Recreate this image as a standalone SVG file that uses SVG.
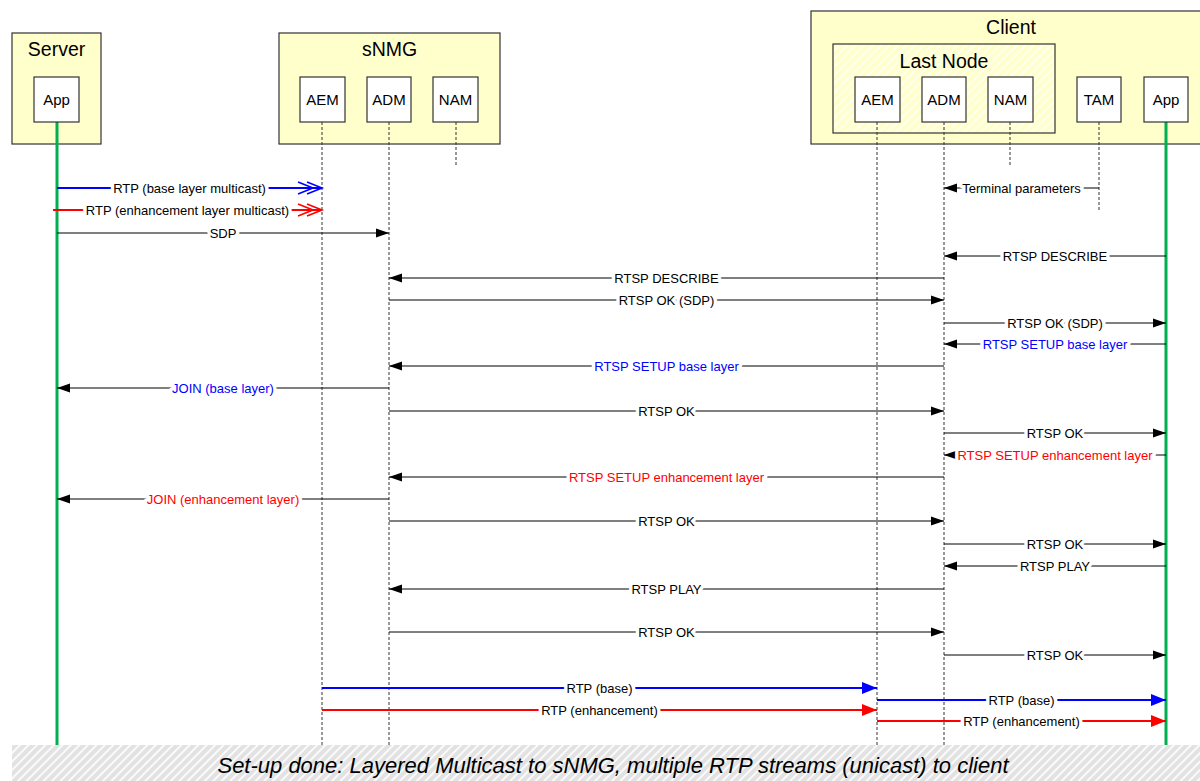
<svg xmlns="http://www.w3.org/2000/svg" width="1200" height="781" viewBox="0 0 1200 781">
<style>
  .grp { fill: #FFFFCC; stroke: #333; stroke-width: 1.2; }
  .node { fill: #FFFFFF; stroke: #333; stroke-width: 1.2; }
  .title { font-family: "Liberation Sans", Arial, sans-serif; font-size: 19.5px; fill: #000; text-anchor: middle; }
  .nlabel { font-family: "Liberation Sans", Arial, sans-serif; font-size: 15px; fill: #000; text-anchor: middle; }
  .life { stroke: #333; stroke-width: 1; stroke-dasharray: 3 2; fill: none; }
  .app { stroke: #00B050; stroke-width: 3; fill: none; }
  .msg { stroke: #000; stroke-width: 1; fill: none; }
  .blue { stroke: #0000FF; stroke-width: 2; fill: none; }
  .red { stroke: #FF0000; stroke-width: 2; fill: none; }
  .lbl { font-family: "Liberation Sans", Arial, sans-serif; font-size: 13px; fill: #000; text-anchor: middle; stroke: #FFFFFF; stroke-width: 7; stroke-linejoin: round; paint-order: stroke; }
  .tb { fill: #0000FF; }
  .tr { fill: #FF0000; }
  .banner { font-family: "Liberation Sans", Arial, sans-serif; font-size: 22px; font-style: italic; fill: #000; text-anchor: middle; }
</style>
<defs>
  <pattern id="hatchY" patternUnits="userSpaceOnUse" width="6" height="6" patternTransform="rotate(45)">
    <rect width="6" height="6" fill="#FFFFCC"/>
    <rect width="2" height="6" fill="#FFFFEE"/>
  </pattern>
  <pattern id="hatchG" patternUnits="userSpaceOnUse" width="6" height="6" patternTransform="rotate(45)">
    <rect width="6" height="6" fill="#E2E2E2"/>
    <rect width="2" height="6" fill="#FAFAFA"/>
  </pattern>
  <marker id="ak" markerUnits="userSpaceOnUse" markerWidth="14" markerHeight="10" refX="13" refY="4.5" orient="auto" overflow="visible">
    <path d="M0,0 L13,4.5 L0,9 z" fill="#000"/>
  </marker>
  <marker id="ab" markerUnits="userSpaceOnUse" markerWidth="16" markerHeight="12" refX="15" refY="6" orient="auto" overflow="visible">
    <path d="M0,0 L15,6 L0,12 z" fill="#0000FF"/>
  </marker>
  <marker id="ar" markerUnits="userSpaceOnUse" markerWidth="16" markerHeight="12" refX="15" refY="6" orient="auto" overflow="visible">
    <path d="M0,0 L15,6 L0,12 z" fill="#FF0000"/>
  </marker>
  <marker id="ob" markerUnits="userSpaceOnUse" markerWidth="20" markerHeight="14" refX="0" refY="0" orient="auto" overflow="visible">
    <path d="M-24,-6 L-9,0 L-24,6 M-15,-6 L0,0 L-15,6" fill="none" stroke="#0000FF" stroke-width="1.6"/>
  </marker>
  <marker id="or" markerUnits="userSpaceOnUse" markerWidth="20" markerHeight="14" refX="0" refY="0" orient="auto" overflow="visible">
    <path d="M-24,-6 L-9,0 L-24,6 M-15,-6 L0,0 L-15,6" fill="none" stroke="#FF0000" stroke-width="1.6"/>
  </marker>
</defs>

<rect width="1200" height="781" fill="#FFFFFF"/>

<!-- Groups -->
<g id="server">
  <rect class="grp" x="12" y="33" width="89" height="111"/>
  <text class="title" x="56.5" y="56">Server</text>
</g>
<g id="snmg">
  <rect class="grp" x="279" y="33" width="221" height="111"/>
  <text class="title" x="389.5" y="56">sNMG</text>
</g>
<g id="client">
  <rect class="grp" x="811" y="11" width="395" height="133"/>
  <text class="title" x="1011" y="34">Client</text>
</g>
<g id="lastnode">
  <rect x="833" y="44" width="222" height="89" fill="url(#hatchY)" stroke="#333" stroke-width="1.2"/>
  <text class="title" x="944" y="68">Last Node</text>
</g>

<!-- Lifelines -->
<g id="lifelines">
  <line class="life" x1="322" y1="122" x2="322" y2="745"/>
  <line class="life" x1="389" y1="122" x2="389" y2="745"/>
  <line class="life" x1="456" y1="122" x2="456" y2="165"/>
  <line class="life" x1="877" y1="122" x2="877" y2="745"/>
  <line class="life" x1="944" y1="122" x2="944" y2="745"/>
  <line class="life" x1="1010" y1="122" x2="1010" y2="165"/>
  <line class="life" x1="1099" y1="122" x2="1099" y2="210"/>
  <line class="app" x1="57" y1="122" x2="57" y2="745"/>
  <line class="app" x1="1166" y1="122" x2="1166" y2="745"/>
</g>

<!-- Nodes -->
<g id="server-app"><rect class="node" x="34" y="77" width="45" height="45"/><text class="nlabel" x="56.5" y="105">App</text></g>
<g id="snmg-aem"><rect class="node" x="300" y="77" width="45" height="45"/><text class="nlabel" x="322.5" y="105">AEM</text></g>
<g id="snmg-adm"><rect class="node" x="367" y="77" width="44" height="45"/><text class="nlabel" x="389" y="105">ADM</text></g>
<g id="snmg-nam"><rect class="node" x="433" y="77" width="45" height="45"/><text class="nlabel" x="455.5" y="105">NAM</text></g>
<g id="client-aem"><rect class="node" x="855" y="77" width="45" height="45"/><text class="nlabel" x="877.5" y="105">AEM</text></g>
<g id="client-adm"><rect class="node" x="922" y="77" width="44" height="45"/><text class="nlabel" x="944" y="105">ADM</text></g>
<g id="client-nam"><rect class="node" x="988" y="77" width="45" height="45"/><text class="nlabel" x="1010.5" y="105">NAM</text></g>
<g id="client-tam"><rect class="node" x="1077" y="77" width="44" height="45"/><text class="nlabel" x="1099" y="105">TAM</text></g>
<g id="client-app"><rect class="node" x="1144" y="77" width="44" height="45"/><text class="nlabel" x="1166" y="105">App</text></g>

<!-- Connectors -->
<g id="connectors">
  <line class="blue" x1="57" y1="188" x2="322" y2="188" marker-end="url(#ob)"/>
  <text class="lbl" x="189.5" y="192.5">RTP (base layer multicast)</text>
  <line class="red" x1="53" y1="210" x2="322" y2="210" marker-end="url(#or)"/>
  <text class="lbl" x="187.5" y="214.5">RTP (enhancement layer multicast)</text>
  <line class="msg" x1="57" y1="233" x2="389" y2="233" marker-end="url(#ak)"/>
  <text class="lbl" x="223" y="237.5">SDP</text>

  <line class="msg" x1="1099" y1="188" x2="944" y2="188" marker-end="url(#ak)"/>
  <text class="lbl" x="1021.5" y="192.5">Terminal parameters</text>

  <line class="msg" x1="1166" y1="256" x2="944" y2="256" marker-end="url(#ak)"/>
  <text class="lbl" x="1055" y="260.5">RTSP DESCRIBE</text>
  <line class="msg" x1="944" y1="278" x2="389" y2="278" marker-end="url(#ak)"/>
  <text class="lbl" x="666.5" y="282.5">RTSP DESCRIBE</text>
  <line class="msg" x1="389" y1="300" x2="944" y2="300" marker-end="url(#ak)"/>
  <text class="lbl" x="666.5" y="304.5">RTSP OK (SDP)</text>
  <line class="msg" x1="944" y1="323" x2="1166" y2="323" marker-end="url(#ak)"/>
  <text class="lbl" x="1055" y="327.5">RTSP OK (SDP)</text>

  <line class="msg" x1="1166" y1="344" x2="944" y2="344" marker-end="url(#ak)"/>
  <text class="lbl tb" x="1055" y="348.5">RTSP SETUP base layer</text>
  <line class="msg" x1="944" y1="366" x2="389" y2="366" marker-end="url(#ak)"/>
  <text class="lbl tb" x="666.5" y="370.5">RTSP SETUP base layer</text>
  <line class="msg" x1="389" y1="388" x2="57" y2="388" marker-end="url(#ak)"/>
  <text class="lbl tb" x="223" y="392.5">JOIN (base layer)</text>
  <line class="msg" x1="389" y1="411" x2="944" y2="411" marker-end="url(#ak)"/>
  <text class="lbl" x="666.5" y="415.5">RTSP OK</text>
  <line class="msg" x1="944" y1="433" x2="1166" y2="433" marker-end="url(#ak)"/>
  <text class="lbl" x="1055" y="437.5">RTSP OK</text>

  <line class="msg" x1="1166" y1="455" x2="944" y2="455" marker-end="url(#ak)"/>
  <text class="lbl tr" x="1055" y="459.5">RTSP SETUP enhancement layer</text>
  <line class="msg" x1="944" y1="477" x2="389" y2="477" marker-end="url(#ak)"/>
  <text class="lbl tr" x="666.5" y="481.5">RTSP SETUP enhancement layer</text>
  <line class="msg" x1="389" y1="499" x2="57" y2="499" marker-end="url(#ak)"/>
  <text class="lbl tr" x="223" y="503.5">JOIN (enhancement layer)</text>
  <line class="msg" x1="389" y1="521" x2="944" y2="521" marker-end="url(#ak)"/>
  <text class="lbl" x="666.5" y="525.5">RTSP OK</text>
  <line class="msg" x1="944" y1="544" x2="1166" y2="544" marker-end="url(#ak)"/>
  <text class="lbl" x="1055" y="548.5">RTSP OK</text>

  <line class="msg" x1="1166" y1="566" x2="944" y2="566" marker-end="url(#ak)"/>
  <text class="lbl" x="1055" y="570.5">RTSP PLAY</text>
  <line class="msg" x1="944" y1="589" x2="389" y2="589" marker-end="url(#ak)"/>
  <text class="lbl" x="666.5" y="593.5">RTSP PLAY</text>
  <line class="msg" x1="389" y1="632" x2="944" y2="632" marker-end="url(#ak)"/>
  <text class="lbl" x="666.5" y="636.5">RTSP OK</text>
  <line class="msg" x1="944" y1="655" x2="1166" y2="655" marker-end="url(#ak)"/>
  <text class="lbl" x="1055" y="659.5">RTSP OK</text>

  <line class="blue" x1="322" y1="688" x2="877" y2="688" marker-end="url(#ab)"/>
  <text class="lbl" x="599.5" y="692.5">RTP (base)</text>
  <line class="red" x1="322" y1="710" x2="877" y2="710" marker-end="url(#ar)"/>
  <text class="lbl" x="599.5" y="714.5">RTP (enhancement)</text>
  <line class="blue" x1="877" y1="700" x2="1166" y2="700" marker-end="url(#ab)"/>
  <text class="lbl" x="1021.5" y="704.5">RTP (base)</text>
  <line class="red" x1="877" y1="721" x2="1166" y2="721" marker-end="url(#ar)"/>
  <text class="lbl" x="1021.5" y="725.5">RTP (enhancement)</text>
</g>

<!-- Banner -->
<g id="banner">
  <rect x="12" y="745" width="1188" height="36" fill="url(#hatchG)"/>
  <text class="banner" x="613" y="773">Set-up done: Layered Multicast to sNMG, multiple RTP streams (unicast) to client</text>
</g>
</svg>
